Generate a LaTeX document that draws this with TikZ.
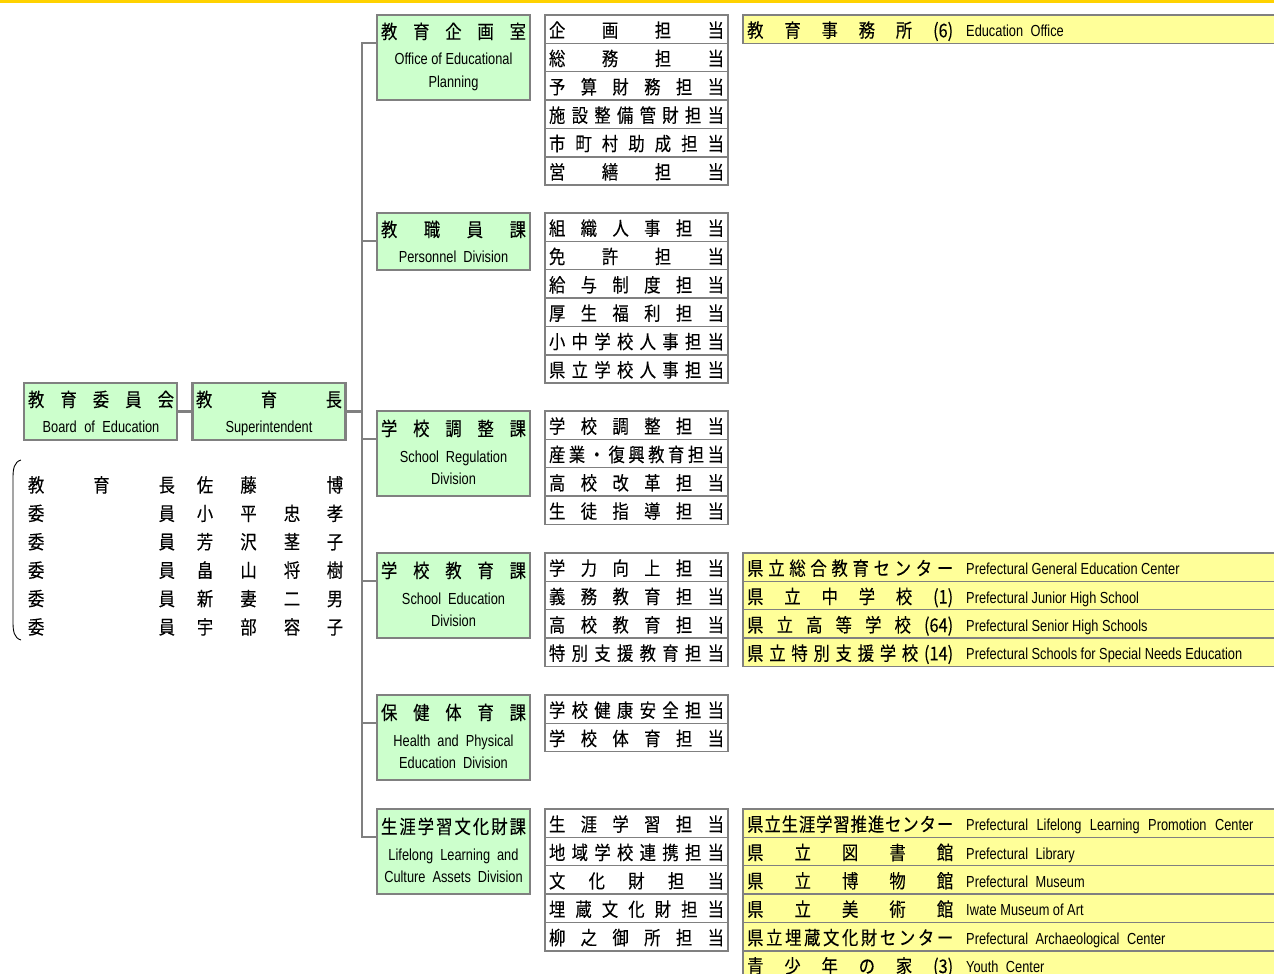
\documentclass[tikz,border=0pt]{standalone}
\usepackage{fontspec}
\setmainfont{Liberation Sans}[FakeStretch=0.8]
\newfontfamily\jp{Noto Sans CJK JP}[FakeStretch=0.86, FakeBold=0.15]
\definecolor{gband}{HTML}{FFD200}
\definecolor{gfill}{HTML}{CCFFCC}
\definecolor{yfill}{HTML}{FFFF99}
\definecolor{lgray}{HTML}{808080}
\def\sprloop#1{\ifx\relax#1\else\hfill#1\expandafter\sprloop\fi}
\def\sprfirst#1{#1\sprloop}
\newcommand\spr[2]{\makebox[#1][s]{\sprfirst#2\relax}}
\newcommand\enf{\fontsize{16}{18}\selectfont}
\newcommand\wsp[1]{\spaceskip=#1pt plus 1pt\relax}
\tikzset{
  greenbox/.style={draw=lgray, line width=2.4pt, fill=gfill, minimum width=153pt, inner sep=0pt, outer sep=0pt},
  cell/.style={draw=lgray, line width=1.5pt, fill=white, minimum width=183pt, minimum height=28.35pt, inner sep=0pt, outer sep=0pt, font=\jp\fontsize{19}{22}\selectfont, text height=17.3pt, text depth=1pt},
  ycell/.style={draw=lgray, line width=1.5pt, fill=yfill, minimum width=547pt, minimum height=28.35pt, inner sep=0pt, outer sep=0pt, anchor=west},
  jt/.style={font=\jp\fontsize{19}{22}\selectfont, inner sep=0pt, text height=17.3pt, text depth=1pt},
  et/.style={font=\enf, inner sep=0pt, text height=10pt, text depth=2pt},
  ey/.style={font=\enf, inner sep=0pt, text height=15pt, text depth=0pt},
  conn/.style={draw=lgray, line width=2.6pt},
}
\newcommand\srow[4]{\node[cell] (#1) at (636.5,{#2+(#3-0.5)*28.35}) {\spr{175pt}{#4}};}
\newcommand\yrow[5]{%
  \node[ycell] (#1) at (743,{#2+(#3-0.5)*28.35}) {};
  \node[jt, anchor=west] (#1j) at (747,{#2+(#3-0.5)*28.35}) {\spr{206pt}{#4}};
  \node[ey, anchor=west] (#1e) at (966,{#2+(#3-0.5)*28.35}) {#5};}
\begin{document}
\begin{tikzpicture}[x=1pt,y=-1pt]
\useasboundingbox (0,0) rectangle (1274,974);
\clip (0,0) rectangle (1274,974);
\fill[gband] (0,0) rectangle (1274,3.5);

% connectors
\coordinate (k1) at (362,43);
\coordinate (k2) at (362,241);
\coordinate (k3) at (362,439);
\coordinate (k4) at (362,581);
\coordinate (k5) at (362,723);
\coordinate (k6) at (362,837);
\coordinate (ks) at (362,411.5);

% board and superintendent
\node[greenbox, minimum height=57pt] (board) at (100.5,411.5) {};
\node[greenbox, minimum height=57pt] (super) at (269,411.5) {};
\draw[conn] (board.east) -- (super.west);
\draw[conn] (super.east) -- (ks);
\node[jt] (boardj) at (101,398.5) {\spr{146pt}{教 育 委 員 会}};
\node[et] (boarde) at (101,428.5) {\wsp{7.5}Board of Education};
\node[jt] (superj) at (269,398.5) {\spr{146pt}{教 育 長}};
\node[et] (supere) at (269,428.5) {Superintendent};

% division boxes
\node[greenbox, minimum height=85pt] (d1) at (453.5,57.5) {};
\node[greenbox, minimum height=57pt] (d2) at (453.5,241.5) {};
\node[greenbox, minimum height=85pt] (d3) at (453.5,453.5) {};
\node[greenbox, minimum height=85pt] (d4) at (453.5,595.5) {};
\node[greenbox, minimum height=85pt] (d5) at (453.5,737.5) {};
\node[greenbox, minimum height=85pt] (d6) at (453.5,851.5) {};
\draw[conn] (k1 -| d1.west) -- (k1) -- (k6) -- (k6 -| d6.west);
\draw[conn] (k2) -- (k2 -| d2.west);
\draw[conn] (k3) -- (k3 -| d3.west);
\draw[conn] (k4) -- (k4 -| d4.west);
\draw[conn] (k5) -- (k5 -| d5.west);

\node[jt] (d1j) at (453.5,30.5) {\spr{145pt}{教 育 企 画 室}};
\node[et] (d1e) at (453.5,61) {Office of Educational};
\node[et] (d1f) at (453.5,84) {Planning};
\node[jt] (d2j) at (453.5,228.5) {\spr{145pt}{教 職 員 課}};
\node[et] (d2e) at (453.5,258) {\wsp{7}Personnel Division};
\node[jt] (d3j) at (453.5,427.5) {\spr{145pt}{学 校 調 整 課}};
\node[et] (d3e) at (453.5,458) {\wsp{7}School Regulation};
\node[et] (d3f) at (453.5,480) {Division};
\node[jt] (d4j) at (453.5,569.5) {\spr{145pt}{学 校 教 育 課}};
\node[et] (d4e) at (453.5,600) {\wsp{7}School Education};
\node[et] (d4f) at (453.5,622) {Division};
\node[jt] (d5j) at (453.5,711.5) {\spr{145pt}{保 健 体 育 課}};
\node[et] (d5e) at (453.5,742) {\wsp{7}Health and Physical};
\node[et] (d5f) at (453.5,764) {\wsp{7}Education Division};
\node[jt] (d6j) at (453.5,825.5) {\spr{145pt}{生 涯 学 習 文 化 財 課}};
\node[et] (d6e) at (453.5,856) {\wsp{7}Lifelong Learning and};
\node[et] (d6f) at (453.5,878) {\wsp{7}Culture Assets Division};

% staff rows
\srow{a1}{15}{1}{企 画 担 当}
\srow{a2}{15}{2}{総 務 担 当}
\srow{a3}{15}{3}{予 算 財 務 担 当}
\srow{a4}{15}{4}{施 設 整 備 管 財 担 当}
\srow{a5}{15}{5}{市 町 村 助 成 担 当}
\srow{a6}{15}{6}{営 繕 担 当}
\srow{b1}{213}{1}{組 織 人 事 担 当}
\srow{b2}{213}{2}{免 許 担 当}
\srow{b3}{213}{3}{給 与 制 度 担 当}
\srow{b4}{213}{4}{厚 生 福 利 担 当}
\srow{b5}{213}{5}{小 中 学 校 人 事 担 当}
\srow{b6}{213}{6}{県 立 学 校 人 事 担 当}
\srow{c1}{411}{1}{学 校 調 整 担 当}
\srow{c2}{411}{2}{産 業 ・ 復 興 教 育 担 当}
\srow{c3}{411}{3}{高 校 改 革 担 当}
\srow{c4}{411}{4}{生 徒 指 導 担 当}
\srow{e1}{553}{1}{学 力 向 上 担 当}
\srow{e2}{553}{2}{義 務 教 育 担 当}
\srow{e3}{553}{3}{高 校 教 育 担 当}
\srow{e4}{553}{4}{特 別 支 援 教 育 担 当}
\srow{f1}{695}{1}{学 校 健 康 安 全 担 当}
\srow{f2}{695}{2}{学 校 体 育 担 当}
\srow{g1}{809}{1}{生 涯 学 習 担 当}
\srow{g2}{809}{2}{地 域 学 校 連 携 担 当}
\srow{g3}{809}{3}{文 化 財 担 当}
\srow{g4}{809}{4}{埋 蔵 文 化 財 担 当}
\srow{g5}{809}{5}{柳 之 御 所 担 当}

% yellow rows
\yrow{y1}{15}{1}{教 育 事 務 所 {(6)}}{\wsp{7.5}Education Office}
\yrow{y2}{553}{1}{県 立 総 合 教 育 セ ン タ ー}{Prefectural General Education Center}
\yrow{y3}{553}{2}{県 立 中 学 校 {(1)}}{Prefectural Junior High School}
\yrow{y4}{553}{3}{県 立 高 等 学 校 {(64)}}{Prefectural Senior High Schools}
\yrow{y5}{553}{4}{県 立 特 別 支 援 学 校 {(14)}}{Prefectural Schools for Special Needs Education}
\yrow{y6}{809}{1}{県 立 生 涯 学 習 推 進 セ ン タ ー}{\wsp{8.5}Prefectural Lifelong Learning Promotion Center}
\yrow{y7}{809}{2}{県 立 図 書 館}{\wsp{7.5}Prefectural Library}
\yrow{y8}{809}{3}{県 立 博 物 館}{\wsp{7.5}Prefectural Museum}
\yrow{y9}{809}{4}{県 立 美 術 館}{Iwate Museum of Art}
\yrow{y10}{809}{5}{県 立 埋 蔵 文 化 財 セ ン タ ー}{\wsp{7.5}Prefectural Archaeological Center}
\yrow{y11}{809}{6}{青 少 年 の 家 {(3)}}{\wsp{7.5}Youth Center}

% members
\draw[line width=0.9pt] (21,460) .. controls (14,462) and (13,469) .. (13,478) -- (13,622) .. controls (13,631) and (14,638) .. (21,640);
\node[jt] (m1t) at (101.5,484) {\spr{147pt}{教 育 長}};
\node[jt] (m1a) at (205,484) {佐};
\node[jt] (m1b) at (248.5,484) {藤};
\node[jt] (m1d) at (335,484) {博};
\foreach \na/\nb/\nc/\nd [count=\i from 2] in {小/平/忠/孝, 芳/沢/茎/子, 畠/山/将/樹, 新/妻/二/男, 宇/部/容/子}{
  \node[jt] (m\i t) at (101.5,{484+(\i-1)*28.4}) {\spr{147pt}{委 員}};
  \node[jt] (m\i a) at (205,{484+(\i-1)*28.4}) {\na};
  \node[jt] (m\i b) at (248.5,{484+(\i-1)*28.4}) {\nb};
  \node[jt] (m\i c) at (292,{484+(\i-1)*28.4}) {\nc};
  \node[jt] (m\i d) at (335,{484+(\i-1)*28.4}) {\nd};
}
\end{tikzpicture}
\end{document}
